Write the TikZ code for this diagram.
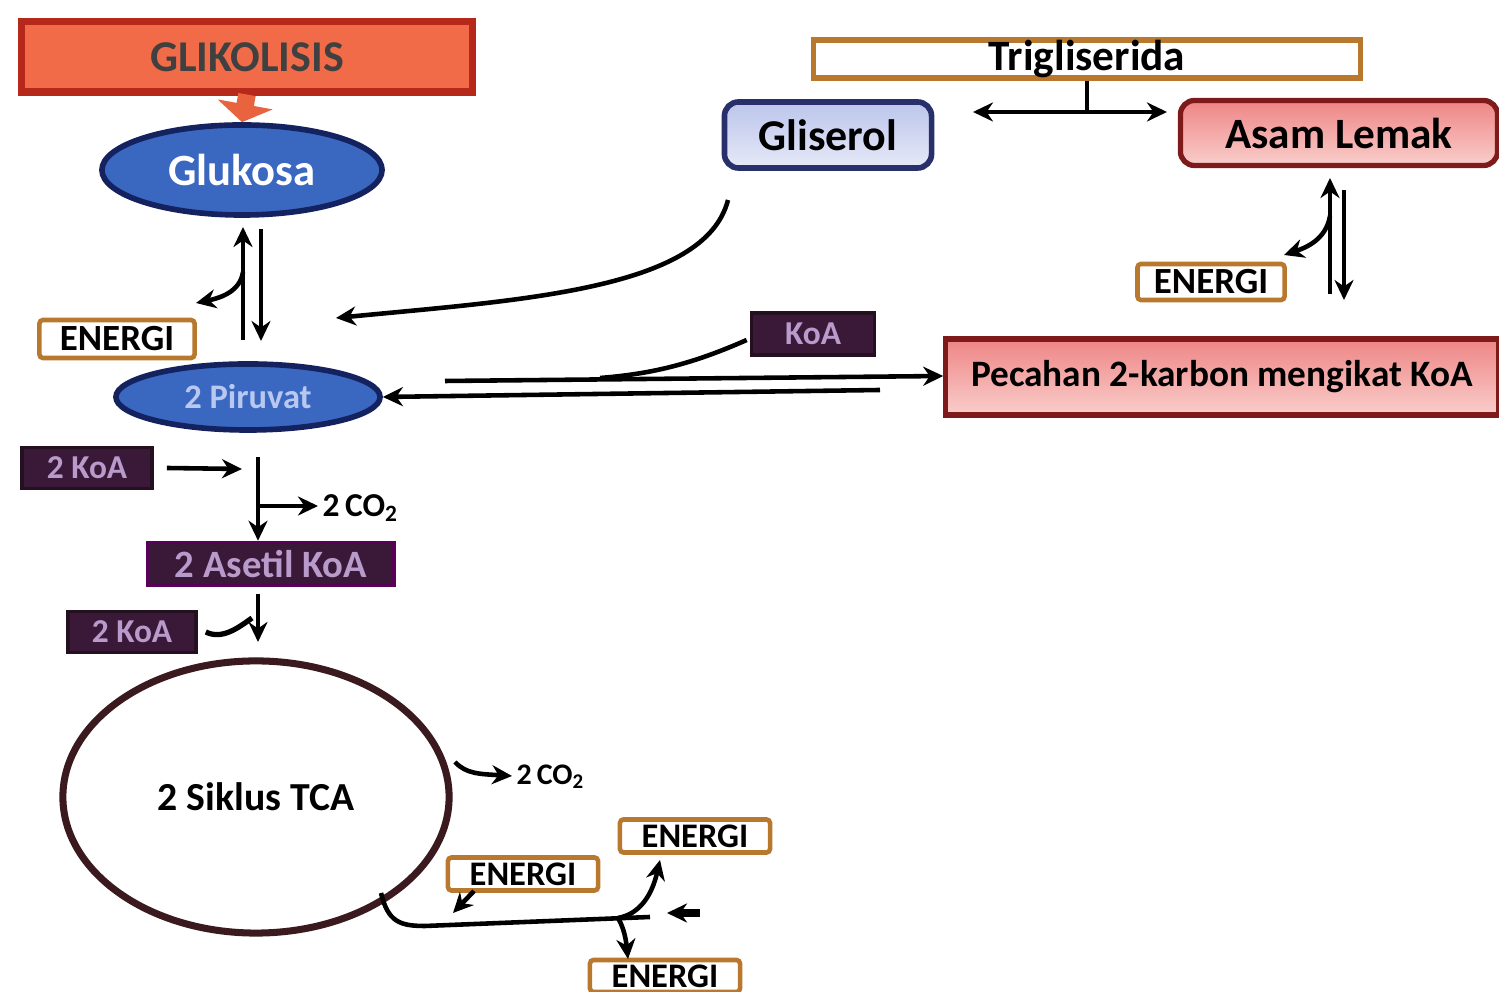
\documentclass[tikz,border=0pt]{standalone}
\usepackage{fontspec}
\setmainfont{Carlito}
\usetikzlibrary{arrows.meta,shapes.geometric}
\definecolor{glikfill}{HTML}{F26B48}
\definecolor{glikdraw}{HTML}{B5281A}
\definecolor{glikarrow}{HTML}{E8633E}
\definecolor{bluefill}{HTML}{3A67C0}
\definecolor{bluedraw}{HTML}{14235F}
\definecolor{paletext}{HTML}{B8C8F0}
\definecolor{energidraw}{HTML}{B8782E}
\definecolor{koafill}{HTML}{3A1838}
\definecolor{koadraw}{HTML}{24101F}
\definecolor{koatext}{HTML}{B89ACB}
\definecolor{glisdraw}{HTML}{27306A}
\definecolor{glistop}{HTML}{BCC5EC}
\definecolor{glisbot}{HTML}{E6E9F7}
\definecolor{redtop}{HTML}{EE8585}
\definecolor{redbot}{HTML}{F9CECB}
\definecolor{reddraw}{HTML}{7E1A1A}
\definecolor{tcadraw}{HTML}{3A1A1E}
\tikzset{
  arr/.style={-{Stealth[length=2mm,width=1.9mm]}, line width=1.3pt},
  plain/.style={line width=1.3pt},
  energibox/.style={draw=energidraw, line width=1.3pt, fill=white, rounded corners=1pt,
     minimum width=1.55cm, minimum height=0.38cm, inner sep=0pt,
     font=\fontsize{10.5}{12}\selectfont\bfseries},
  smallenergi/.style={energibox, minimum width=1.5cm, minimum height=0.33cm,
     font=\fontsize{9.8}{11}\selectfont\bfseries},
  koabox/.style={draw=koadraw, line width=1pt, fill=koafill, text=koatext,
     minimum height=0.41cm, inner sep=0pt, font=\fontsize{9.5}{11}\selectfont\bfseries},
  blueell/.style={ellipse, draw=bluedraw, line width=1.6pt, fill=bluefill, inner sep=0pt},
  pinkbox/.style={draw=reddraw, line width=1.5pt, top color=redtop, bottom color=redbot,
     inner sep=0pt, font=\fontsize{12.3}{14}\selectfont\bfseries},
}
\begin{document}
\begin{tikzpicture}[x=0.01cm, y=-0.01cm]
\useasboundingbox (0,0) rectangle (1499,992);
\fill[white] (0,0) rectangle (1499,992);

% ---------- left column ----------
\node[draw=glikdraw, line width=2pt, fill=glikfill, minimum width=4.5cm, minimum height=0.7cm,
      inner sep=0pt, text=black!75, font=\fontsize{12.5}{15}\selectfont\bfseries] (glik) at (247,57) {GLIKOLISIS};
\node[blueell, minimum width=2.8cm, minimum height=0.9cm, text=white,
      font=\fontsize{12.7}{15}\selectfont\bfseries] (gluk) at (242,170) {Glukosa};
\draw[line width=5pt, glikarrow, -{Triangle[length=1.8mm,width=5.5mm]}] ([yshift=0.01cm]glik.south) -- (gluk.north);

\node[blueell, minimum width=2.64cm, minimum height=0.66cm, text=paletext,
      font=\fontsize{9.8}{12}\selectfont\bfseries] (piru) at (248,397) {2 Piruvat};
\node[energibox] (e1) at (117,339) {ENERGI};

\coordinate (gA) at (243,340);
\coordinate (gB) at (243,227);
\coordinate (gC) at (261,229);
\coordinate (gD) at (261,341);
\coordinate (gE) at (243,272);
\coordinate (gF) at (196,303);
\draw[arr] (gA) -- (gB);
\draw[arr] (gC) -- (gD);
\draw[arr] (gE) .. controls (240,292) and (220,298) .. (gF);

\node[koabox, minimum width=1.3cm] (koa1) at (87,468) {2 KoA};
\coordinate (k1) at (242,469);
\draw[arr] ([xshift=0.13cm]koa1.east) -- (k1);

\node[koabox, minimum width=2.46cm, minimum height=0.43cm, draw=violet!70!black,
      font=\fontsize{11}{13}\selectfont\bfseries] (aset) at (271,564) {2 Asetil KoA};
\coordinate (v1) at (258,457);
\coordinate (v2) at (258,506);
\coordinate (v3) at (318,506);
\draw[arr] (v1) -- (aset.north -| v1);
\draw[arr] (v2) -- (v3);
\node[anchor=west, inner sep=0pt, font=\fontsize{9.5}{11}\selectfont\bfseries] (co2a) at (322,508) {2\,CO\textsubscript{2}};

\node[koabox, minimum width=1.28cm] (koa2) at (132,632) {2 KoA};
\coordinate (w1) at (258,594);
\coordinate (w2) at (258,642);
\coordinate (w3) at (252,618);
\draw[arr] (w1) -- (w2);
\draw[line width=1.5pt] ([xshift=0.08cm]koa2.east) .. controls (222,640) and (238,628) .. (w3);

\node[ellipse, draw=tcadraw, line width=2pt, fill=white, minimum width=3.86cm, minimum height=2.72cm,
      inner sep=0pt, font=\fontsize{11.3}{14}\selectfont\bfseries] (tca) at (256,797) {2 Siklus TCA};

\coordinate (t1) at (455,762);
\coordinate (t2) at (512,776);
\draw[arr] (t1) .. controls (466,774) and (480,774) .. (t2);
\node[anchor=west, inner sep=0pt, font=\fontsize{8.5}{10}\selectfont\bfseries] (co2b) at (516,777) {2\,CO\textsubscript{2}};

\node[smallenergi] (e2) at (523,874) {ENERGI};
\node[smallenergi] (e3) at (695,836) {ENERGI};
\node[smallenergi, minimum height=0.32cm] (e4) at (665,976) {ENERGI};

\coordinate (b0) at (381,893);
\coordinate (b1) at (425,926);
\coordinate (b2) at (650,917);
\coordinate (bj) at (618,918);
\coordinate (bu) at (660,860);
\coordinate (bd) at (628,959);
\coordinate (bl1) at (474,891);
\coordinate (bl2) at (453,913);
\coordinate (bs1) at (700,913);
\coordinate (bs2) at (667,913);
\draw[plain] (b0) .. controls (388,922) and (400,926) .. (b1) -- (b2);
\draw[arr] (bj) .. controls (640,914) and (652,895) .. (bu);
\draw[arr] (bj) .. controls (624,928) and (626,940) .. (bd);
\draw[arr] (bl1) -- (bl2);
\draw[arr, line width=2pt] (bs1) -- (bs2);

% ---------- right side ----------
\node[draw=energidraw, line width=1.6pt, fill=white, minimum width=5.47cm, minimum height=0.38cm,
      inner sep=0pt, font=\fontsize{12.3}{14}\selectfont\bfseries] (trig) at (1087,59) {Trigliserida};
\node[draw=glisdraw, line width=1.6pt, rounded corners=4pt, top color=glistop, bottom color=glisbot,
      minimum width=2.07cm, minimum height=0.66cm, inner sep=0pt,
      font=\fontsize{12.5}{15}\selectfont\bfseries] (glis) at (828,135) {Gliserol};
\node[pinkbox, rounded corners=4pt, minimum width=3.17cm, minimum height=0.65cm] (asam) at (1339,133) {Asam Lemak};

\coordinate (tj) at (1087,112);
\coordinate (tl) at (973,112);
\coordinate (tr) at (1167,112);
\draw[plain] (trig.south) -- (tj);
\draw[{Stealth[length=2mm,width=1.9mm]}-{Stealth[length=2mm,width=1.9mm]}, line width=1.3pt] (tl) -- (tr);

\node[energibox, minimum width=1.47cm, minimum height=0.36cm] (e5) at (1211,282) {ENERGI};
\coordinate (aA) at (1330,294);
\coordinate (aB) at (1330,178);
\coordinate (aC) at (1344,190);
\coordinate (aD) at (1344,300);
\coordinate (aE) at (1330,216);
\coordinate (aF) at (1284,255);
\draw[arr] (aA) -- (aB);
\draw[arr] (aC) -- (aD);
\draw[arr] (aE) .. controls (1326,240) and (1305,248) .. (aF);

\node[koabox, minimum width=1.23cm, minimum height=0.42cm] (koa3) at (813,334) {KoA};
\node[pinkbox, minimum width=5.52cm, minimum height=0.76cm, font=\fontsize{10.6}{13}\selectfont\bfseries]
      (pec) at (1222,377) {Pecahan 2-karbon mengikat KoA};

\coordinate (p1) at (445,381);
\coordinate (p2) at (880,390);
\coordinate (pm) at (600,378);
\draw[arr] (p1) -- (pec.west |- 0,376);
\draw[arr] (p2) -- (piru.east |- 0,397);
\draw[plain] ([xshift=-0.03cm, yshift=-0.06cm]koa3.west) .. controls (690,365) and (650,374) .. (pm);

\coordinate (gl1) at (728,200);
\coordinate (gl2) at (336,318);
\draw[arr] (gl1) .. controls (705,290) and (520,300) .. (gl2);
\end{tikzpicture}
\end{document}
